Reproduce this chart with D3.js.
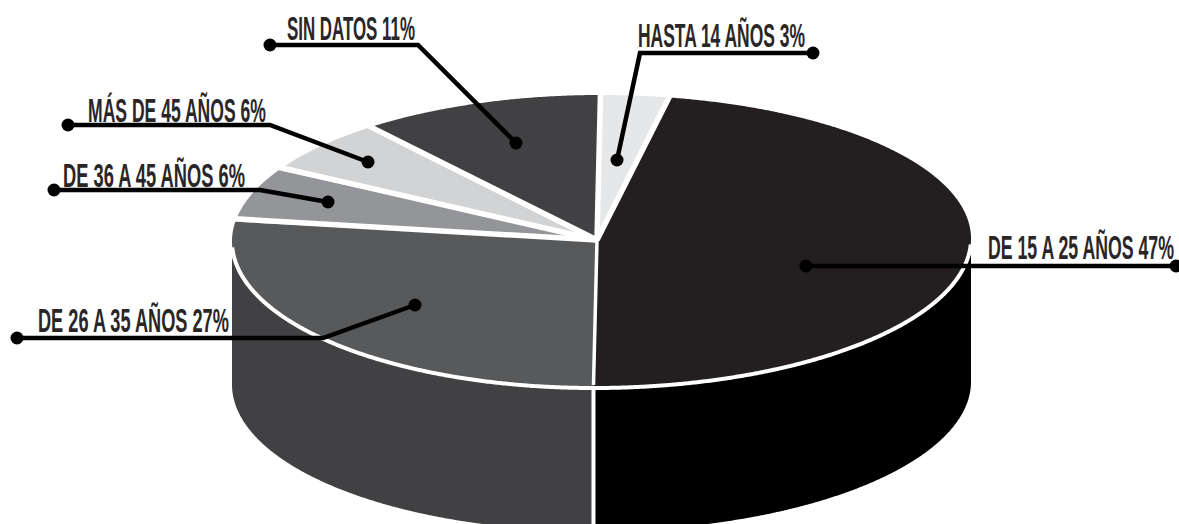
<!DOCTYPE html>
<html lang="es">
<head>
<meta charset="utf-8">
<style>
  html, body { margin: 0; padding: 0; background: #fff; }
  svg { display: block; }
  text { font-family: "Liberation Sans Narrow", "Liberation Sans", sans-serif; font-weight: 700; fill: #2a2628; }
</style>
</head>
<body>
<svg id="chart" width="1179" height="524"></svg>
<script src="https://cdn.jsdelivr.net/npm/d3@7/dist/d3.min.js"></script>
<script>
// Age groups, clockwise from twelve o'clock
const categories = ["HASTA 14 AÑOS", "DE 15 A 25 AÑOS", "DE 26 A 35 AÑOS", "DE 36 A 45 AÑOS", "MÁS DE 45 AÑOS", "SIN DATOS"];
const percentages = [3, 47, 27, 6, 6, 11];
const topColors = ["#e6e7e8", "#231f20", "#58595b", "#939598", "#d1d3d4", "#414042"];
const sideColors = ["#e6e7e8", "#000000", "#414042", "#939598", "#d1d3d4", "#414042"];

// Callout placement: text box, elbow path and end dots, one row per category
const callouts = [
  { x: 638, w: 167, base: 47, path: [[813, 53], [640, 53], [617, 160]] },
  { x: 988, w: 186, base: 259, path: [[806, 266], [1176, 266]] },
  { x: 38, w: 191, base: 332, path: [[17, 338], [323, 338], [415, 305]] },
  { x: 63, w: 182, base: 187, path: [[54, 190], [260, 190], [328, 202]] },
  { x: 88, w: 178, base: 122, path: [[68, 125], [270, 125], [368, 162]] },
  { x: 287, w: 128, base: 40, path: [[270, 45], [418, 45], [516, 143]] }
];

const svg = d3.select("#chart");

// The disc is a unit circle flattened by two scales; the pie centre sits a
// little off the middle of the ellipse and the vertical axis leans slightly
const x = d3.scaleLinear().domain([-1, 0, 1]).range([232, 597, 971]);
const y = d3.scaleLinear().domain([-1, 0, 1]).range([95, 240, 388]);
const lean = 3.5;
const depth = 143;
const px = a => x(Math.sin(a)) + lean * Math.cos(a);
const py = a => y(-Math.cos(a));

const arcs = d3.pie().value(d => d).sort(null)(percentages);
const sweep = (a0, a1) => d3.range(a0, a1, 0.005).concat(a1);

// Side wall: only the front half of the cylinder can be seen
const wall = d3.area()
  .x(px)
  .y0(py)
  .y1(a => py(a) + depth);

svg.append("g").selectAll("path")
  .data(arcs.filter(d => d.endAngle > Math.PI / 2 && d.startAngle < 1.5 * Math.PI))
  .join("path")
  .attr("fill", d => sideColors[d.index])
  .attr("d", d => wall(sweep(Math.max(d.startAngle, Math.PI / 2), Math.min(d.endAngle, 1.5 * Math.PI))));

// Top face
const outline = d3.line().x(px).y(py);
svg.append("g").selectAll("path")
  .data(arcs)
  .join("path")
  .attr("fill", (d, i) => topColors[i])
  .attr("d", d => `M${x(0)},${y(0)}L` + outline(sweep(d.startAngle, d.endAngle)).slice(1) + "Z");

// White rim along the front of the disc
svg.append("path")
  .attr("fill", "none")
  .attr("stroke", "#fff")
  .attr("stroke-width", 4)
  .attr("d", outline(sweep(Math.PI / 2 + 0.03, 1.5 * Math.PI - 0.05)));

// White gaps between slices
svg.append("g").selectAll("line")
  .data(arcs)
  .join("line")
  .attr("stroke", "#fff")
  .attr("stroke-width", d => d.index === 2 ? 3.5 : 5.5)
  .attr("x1", x(0)).attr("y1", y(0))
  .attr("x2", d => px(d.startAngle))
  .attr("y2", d => py(d.startAngle) - 3);

// Seam between the two visible side faces
const seam = arcs.find(d => d.index === 2).startAngle;
svg.append("line")
  .attr("stroke", "#fff")
  .attr("stroke-width", 4)
  .attr("x1", px(seam)).attr("y1", py(seam))
  .attr("x2", px(seam)).attr("y2", py(seam) + depth);

// Callouts
const leader = d3.line();
const groups = svg.append("g").selectAll("g")
  .data(callouts)
  .join("g");

groups.append("path")
  .attr("fill", "none")
  .attr("stroke", "#000")
  .attr("stroke-width", 4.5)
  .attr("d", d => leader(d.path));

groups.selectAll("circle")
  .data(d => [d.path[0], d.path[d.path.length - 1]])
  .join("circle")
  .attr("cx", d => d[0])
  .attr("cy", d => d[1])
  .attr("r", 6.5)
  .attr("fill", "#000");

// Labels are tall and tight: squeeze each one horizontally to its box
groups.append("text")
  .attr("font-size", 33)
  .text((d, i) => `${categories[i]} ${percentages[i]}%`)
  .attr("transform", function (d) {
    const squeeze = d.w / this.getComputedTextLength();
    return `translate(${d.x},${d.base}) scale(${squeeze},1)`;
  });
</script>
</body>
</html>
